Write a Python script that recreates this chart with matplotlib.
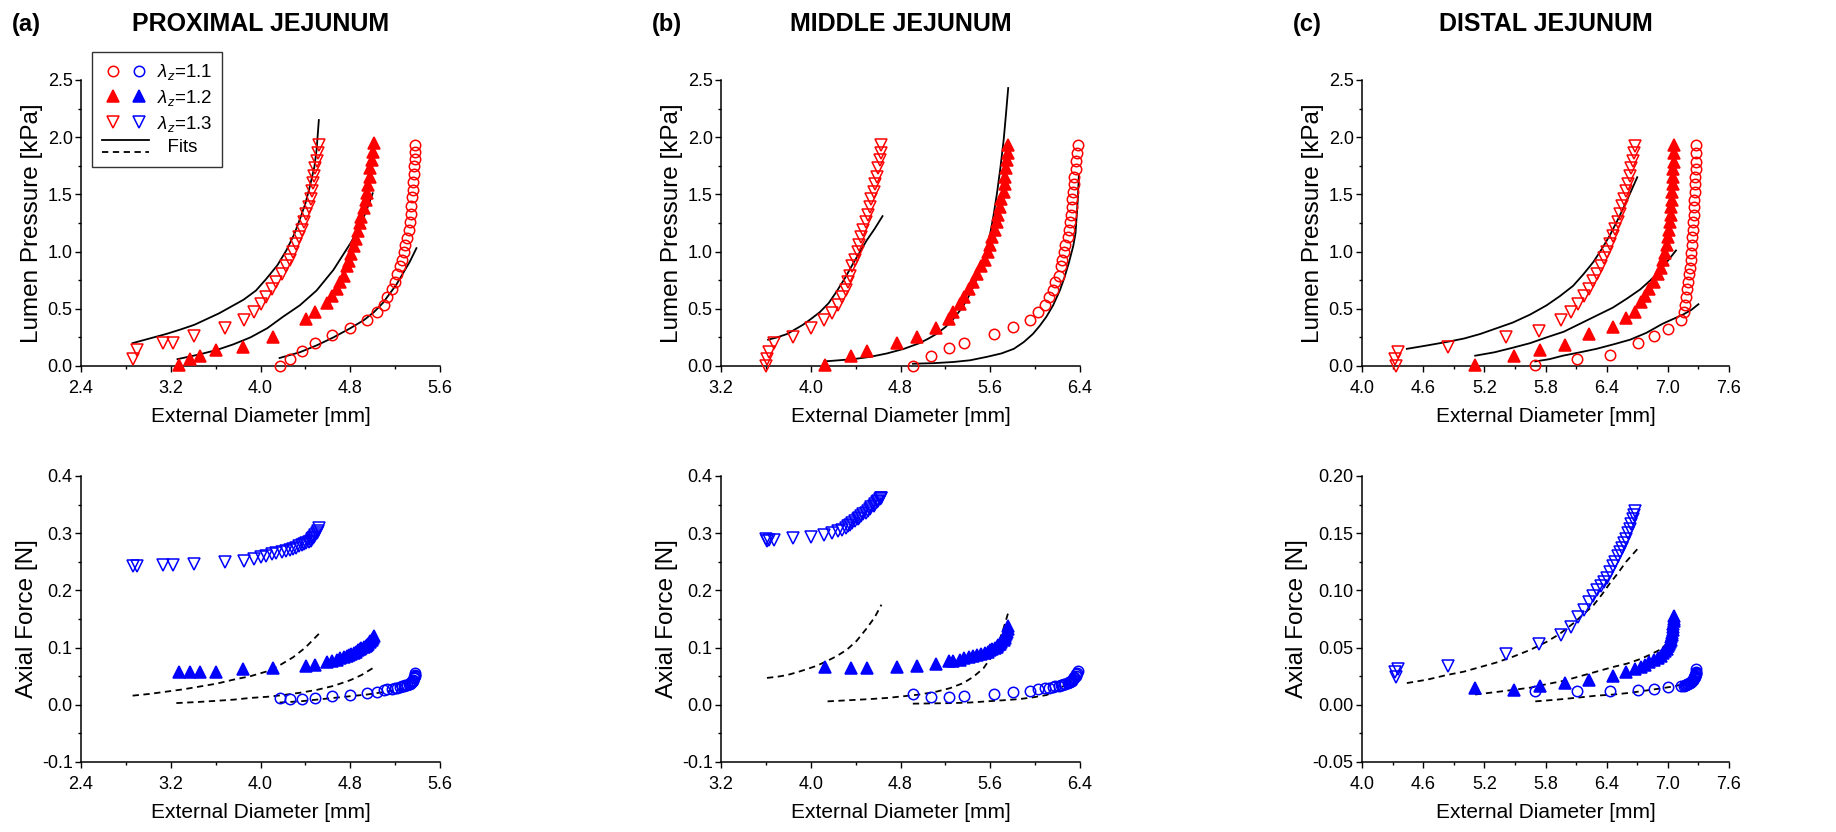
import matplotlib
matplotlib.use('Agg')
import matplotlib.pyplot as plt
from matplotlib.lines import Line2D
from matplotlib.legend_handler import HandlerBase, HandlerTuple
from matplotlib.ticker import FixedLocator, FormatStrFormatter

plt.rcParams['font.family'] = ['Liberation Sans', 'DejaVu Sans']
plt.rcParams['mathtext.fontset'] = 'custom'
plt.rcParams['mathtext.rm'] = 'Liberation Sans'
plt.rcParams['mathtext.it'] = 'Liberation Sans:italic'

# ---------------- proximal jejunum ----------------
d_a1 = [4.17, 4.26, 4.37, 4.49, 4.64, 4.80, 4.95, 5.04, 5.10, 5.13, 5.17, 5.20, 5.22, 5.24, 5.26,
        5.28, 5.29, 5.31, 5.32, 5.33, 5.34, 5.345, 5.35, 5.355, 5.36, 5.365, 5.37, 5.375, 5.38, 5.38]
p_a1 = [0.00, 0.06, 0.13, 0.20, 0.27, 0.33, 0.40, 0.47, 0.53, 0.60, 0.67, 0.73, 0.80, 0.87, 0.93,
        1.00, 1.06, 1.12, 1.19, 1.26, 1.33, 1.40, 1.48, 1.54, 1.61, 1.68, 1.75, 1.81, 1.87, 1.93]
f_a1 = [0.012, 0.010, 0.010, 0.012, 0.015, 0.017, 0.020, 0.023, 0.026, 0.027, 0.028, 0.029, 0.030, 0.031, 0.032,
        0.033, 0.034, 0.035, 0.036, 0.037, 0.038, 0.039, 0.040, 0.042, 0.044, 0.046, 0.048, 0.050, 0.052, 0.055]

d_a2 = [3.27, 3.37, 3.46, 3.60, 3.84, 4.11, 4.41, 4.49, 4.59, 4.64, 4.68, 4.71, 4.74, 4.77, 4.79,
        4.81, 4.83, 4.85, 4.87, 4.89, 4.90, 4.92, 4.94, 4.95, 4.96, 4.98, 4.98, 4.99, 5.00, 5.01]
p_a2 = [0.01, 0.06, 0.09, 0.14, 0.17, 0.25, 0.41, 0.47, 0.55, 0.61, 0.67, 0.73, 0.79, 0.87, 0.92,
        0.98, 1.05, 1.11, 1.18, 1.25, 1.30, 1.38, 1.45, 1.51, 1.58, 1.65, 1.73, 1.80, 1.87, 1.95]
f_a2 = [0.057, 0.057, 0.057, 0.057, 0.062, 0.064, 0.068, 0.070, 0.074, 0.077, 0.079, 0.081, 0.083, 0.085, 0.087,
        0.089, 0.091, 0.093, 0.095, 0.097, 0.099, 0.101, 0.103, 0.105, 0.107, 0.109, 0.111, 0.113, 0.116, 0.120]

d_a3 = [2.86, 2.90, 3.13, 3.22, 3.41, 3.68, 3.85, 3.94, 4.00, 4.05, 4.10, 4.14, 4.19, 4.23, 4.26,
        4.29, 4.32, 4.34, 4.37, 4.39, 4.41, 4.43, 4.45, 4.46, 4.47, 4.48, 4.49, 4.50, 4.51, 4.52]
p_a3 = [0.06, 0.14, 0.20, 0.20, 0.26, 0.33, 0.40, 0.47, 0.54, 0.60, 0.67, 0.73, 0.80, 0.87, 0.93,
        1.00, 1.07, 1.13, 1.19, 1.26, 1.33, 1.39, 1.46, 1.53, 1.60, 1.66, 1.73, 1.79, 1.86, 1.93]
f_a3 = [0.243, 0.242, 0.244, 0.245, 0.247, 0.249, 0.252, 0.255, 0.258, 0.261, 0.263, 0.265, 0.267, 0.269, 0.271,
        0.273, 0.275, 0.277, 0.279, 0.281, 0.283, 0.285, 0.287, 0.289, 0.291, 0.294, 0.297, 0.300, 0.304, 0.309]

fd_a1 = [4.17, 4.35, 4.50, 4.65, 4.80, 4.92, 5.01, 5.09, 5.15, 5.21, 5.27, 5.33, 5.39]
fp_a1 = [0.07, 0.12, 0.18, 0.25, 0.33, 0.40, 0.47, 0.55, 0.63, 0.71, 0.81, 0.91, 1.03]
fd_a2 = [3.26, 3.45, 3.61, 3.76, 3.91, 4.06, 4.20, 4.35, 4.50, 4.65, 4.80, 4.87, 4.92, 4.96, 5.00]
fp_a2 = [0.06, 0.10, 0.14, 0.19, 0.25, 0.33, 0.43, 0.53, 0.66, 0.84, 1.07, 1.19, 1.30, 1.40, 1.51]
fd_a3 = [2.86, 3.01, 3.16, 3.29, 3.41, 3.63, 3.85, 3.96, 4.05, 4.15, 4.23, 4.30, 4.35, 4.40, 4.44, 4.48, 4.50, 4.52]
fp_a3 = [0.20, 0.24, 0.28, 0.32, 0.36, 0.46, 0.58, 0.66, 0.76, 0.88, 1.01, 1.15, 1.28, 1.42, 1.57, 1.74, 1.89, 2.15]

ffd_a1 = [4.17, 4.35, 4.50, 4.65, 4.80, 4.95, 5.09, 5.24, 5.39]
ff_a1 = [0.004, 0.006, 0.009, 0.012, 0.015, 0.018, 0.022, 0.027, 0.032]
ffd_a2 = [3.25, 3.45, 3.61, 3.76, 3.91, 4.06, 4.20, 4.35, 4.50, 4.65, 4.80, 4.90, 5.00]
ff_a2 = [0.003, 0.005, 0.007, 0.009, 0.012, 0.014, 0.017, 0.021, 0.026, 0.033, 0.043, 0.052, 0.064]
ffd_a3 = [2.86, 3.01, 3.16, 3.31, 3.46, 3.61, 3.76, 3.91, 4.05, 4.17, 4.29, 4.40, 4.52]
ff_a3 = [0.016, 0.019, 0.023, 0.027, 0.032, 0.037, 0.044, 0.050, 0.058, 0.069, 0.083, 0.100, 0.124]

# ---------------- middle jejunum ----------------
d_b1 = [4.91, 5.07, 5.23, 5.37, 5.63, 5.80, 5.95, 6.03, 6.09, 6.12, 6.16, 6.18, 6.21, 6.23, 6.24,
        6.26, 6.27, 6.29, 6.30, 6.31, 6.32, 6.33, 6.33, 6.34, 6.35, 6.35, 6.36, 6.36, 6.37, 6.38]
p_b1 = [0.00, 0.09, 0.16, 0.20, 0.28, 0.34, 0.40, 0.47, 0.53, 0.60, 0.66, 0.73, 0.79, 0.87, 0.93,
        1.00, 1.06, 1.13, 1.19, 1.26, 1.32, 1.39, 1.46, 1.52, 1.59, 1.65, 1.72, 1.79, 1.86, 1.93]
f_b1 = [0.019, 0.013, 0.013, 0.016, 0.019, 0.022, 0.025, 0.027, 0.029, 0.030, 0.031, 0.032, 0.033, 0.034, 0.035,
        0.036, 0.037, 0.038, 0.039, 0.040, 0.041, 0.042, 0.043, 0.045, 0.047, 0.049, 0.051, 0.053, 0.056, 0.059]

d_b2 = [4.13, 4.36, 4.50, 4.77, 4.95, 5.12, 5.23, 5.27, 5.33, 5.37, 5.41, 5.45, 5.48, 5.52, 5.55,
        5.58, 5.60, 5.62, 5.64, 5.66, 5.67, 5.69, 5.70, 5.72, 5.73, 5.73, 5.74, 5.75, 5.76, 5.76]
p_b2 = [0.01, 0.09, 0.13, 0.20, 0.25, 0.33, 0.41, 0.47, 0.54, 0.60, 0.67, 0.73, 0.80, 0.87, 0.93,
        1.00, 1.06, 1.13, 1.19, 1.26, 1.32, 1.39, 1.46, 1.52, 1.59, 1.65, 1.73, 1.80, 1.86, 1.93]
f_b2 = [0.066, 0.064, 0.064, 0.066, 0.068, 0.072, 0.076, 0.077, 0.079, 0.081, 0.083, 0.085, 0.087, 0.089, 0.091,
        0.093, 0.095, 0.097, 0.099, 0.101, 0.104, 0.107, 0.110, 0.113, 0.116, 0.120, 0.124, 0.128, 0.133, 0.138]

d_b3 = [3.60, 3.61, 3.63, 3.67, 3.84, 4.00, 4.12, 4.19, 4.24, 4.28, 4.31, 4.33, 4.35, 4.37, 4.39,
        4.42, 4.43, 4.45, 4.47, 4.49, 4.51, 4.53, 4.54, 4.56, 4.57, 4.59, 4.60, 4.62, 4.63, 4.63]
p_b3 = [0.00, 0.06, 0.12, 0.20, 0.25, 0.33, 0.40, 0.46, 0.53, 0.60, 0.66, 0.73, 0.79, 0.87, 0.93,
        1.00, 1.06, 1.13, 1.19, 1.26, 1.32, 1.39, 1.46, 1.52, 1.59, 1.65, 1.73, 1.80, 1.86, 1.93]
f_b3 = [0.289, 0.287, 0.288, 0.288, 0.292, 0.294, 0.297, 0.300, 0.303, 0.306, 0.309, 0.312, 0.315, 0.318, 0.321,
        0.324, 0.327, 0.330, 0.333, 0.336, 0.339, 0.342, 0.345, 0.348, 0.351, 0.354, 0.357, 0.359, 0.361, 0.362]

fd_b1 = [4.91, 5.10, 5.27, 5.42, 5.57, 5.70, 5.81, 5.90, 5.98, 6.04, 6.10, 6.16, 6.22, 6.26, 6.30, 6.34, 6.36, 6.38, 6.39]
fp_b1 = [0.02, 0.025, 0.035, 0.05, 0.08, 0.11, 0.15, 0.21, 0.28, 0.35, 0.43, 0.53, 0.66, 0.77, 0.90, 1.05, 1.16, 1.45, 1.67]
fd_b2 = [4.12, 4.38, 4.53, 4.68, 4.83, 4.97, 5.05, 5.12, 5.20, 5.27, 5.35, 5.42, 5.47, 5.52, 5.56, 5.60, 5.63, 5.66, 5.69, 5.72, 5.74, 5.76]
fp_b2 = [0.04, 0.06, 0.08, 0.11, 0.15, 0.20, 0.24, 0.28, 0.34, 0.41, 0.51, 0.63, 0.74, 0.87, 1.00, 1.16, 1.32, 1.51, 1.73, 1.98, 2.20, 2.43]
fd_b3 = [3.62, 3.70, 3.79, 3.86, 3.93, 4.00, 4.08, 4.16, 4.23, 4.30, 4.38, 4.44, 4.50, 4.57, 4.64]
fp_b3 = [0.23, 0.25, 0.28, 0.32, 0.36, 0.41, 0.47, 0.55, 0.65, 0.76, 0.90, 1.00, 1.10, 1.20, 1.31]

ffd_b1 = [4.91, 5.10, 5.27, 5.42, 5.57, 5.72, 5.86, 5.98, 6.10, 6.19, 6.27, 6.33, 6.38]
ff_b1 = [0.002, 0.0025, 0.003, 0.004, 0.006, 0.008, 0.010, 0.013, 0.017, 0.024, 0.035, 0.045, 0.058]
ffd_b2 = [4.15, 4.34, 4.53, 4.68, 4.83, 4.97, 5.12, 5.24, 5.36, 5.45, 5.54, 5.60, 5.66, 5.71, 5.76]
ff_b2 = [0.006, 0.008, 0.010, 0.012, 0.015, 0.018, 0.023, 0.029, 0.038, 0.049, 0.064, 0.081, 0.102, 0.128, 0.161]
ffd_b3 = [3.61, 3.70, 3.79, 3.88, 3.96, 4.05, 4.14, 4.23, 4.32, 4.41, 4.50, 4.57, 4.63]
ff_b3 = [0.047, 0.049, 0.052, 0.057, 0.062, 0.068, 0.076, 0.085, 0.096, 0.112, 0.134, 0.153, 0.175]

# ---------------- distal jejunum ----------------
d_c1 = [5.70, 6.11, 6.43, 6.71, 6.86, 7.00, 7.13, 7.16, 7.17, 7.18, 7.19, 7.20, 7.21, 7.22, 7.23,
        7.23, 7.24, 7.24, 7.25, 7.25, 7.26, 7.26, 7.26, 7.27, 7.27, 7.27, 7.28, 7.28, 7.28, 7.28]
p_c1 = [0.01, 0.06, 0.10, 0.20, 0.26, 0.32, 0.40, 0.47, 0.53, 0.60, 0.67, 0.73, 0.80, 0.86, 0.93,
        0.99, 1.06, 1.13, 1.19, 1.26, 1.32, 1.39, 1.45, 1.52, 1.59, 1.65, 1.72, 1.78, 1.86, 1.93]
f_c1 = [0.012, 0.012, 0.0125, 0.013, 0.014, 0.0155, 0.016, 0.016, 0.017, 0.017, 0.018, 0.018, 0.019, 0.019, 0.020,
        0.020, 0.021, 0.021, 0.022, 0.022, 0.023, 0.023, 0.024, 0.024, 0.025, 0.026, 0.027, 0.028, 0.029, 0.031]

d_c2 = [5.11, 5.49, 5.75, 5.99, 6.23, 6.46, 6.59, 6.68, 6.74, 6.78, 6.82, 6.86, 6.90, 6.93, 6.95,
        6.97, 6.99, 7.00, 7.01, 7.02, 7.03, 7.03, 7.04, 7.04, 7.05, 7.05, 7.05, 7.06, 7.06, 7.06]
p_c2 = [0.01, 0.09, 0.14, 0.18, 0.28, 0.34, 0.42, 0.47, 0.56, 0.61, 0.67, 0.73, 0.80, 0.86, 0.93,
        0.99, 1.06, 1.13, 1.19, 1.26, 1.32, 1.39, 1.45, 1.52, 1.59, 1.65, 1.72, 1.78, 1.86, 1.93]
f_c2 = [0.015, 0.013, 0.016, 0.019, 0.022, 0.025, 0.029, 0.031, 0.033, 0.035, 0.037, 0.039, 0.041, 0.043, 0.045,
        0.047, 0.049, 0.051, 0.053, 0.055, 0.057, 0.059, 0.061, 0.063, 0.065, 0.068, 0.071, 0.073, 0.075, 0.078]

d_c3 = [4.33, 4.32, 4.35, 4.84, 5.41, 5.74, 5.95, 6.05, 6.12, 6.18, 6.23, 6.27, 6.31, 6.34, 6.37,
        6.40, 6.43, 6.46, 6.48, 6.51, 6.53, 6.55, 6.57, 6.59, 6.61, 6.63, 6.64, 6.66, 6.67, 6.68]
p_c3 = [0.00, 0.06, 0.12, 0.17, 0.25, 0.31, 0.40, 0.47, 0.54, 0.61, 0.67, 0.74, 0.80, 0.87, 0.94,
        1.00, 1.07, 1.14, 1.20, 1.26, 1.33, 1.40, 1.46, 1.53, 1.59, 1.66, 1.73, 1.79, 1.86, 1.92]
f_c3 = [0.024, 0.029, 0.031, 0.034, 0.044, 0.053, 0.061, 0.068, 0.077, 0.083, 0.090, 0.095, 0.100, 0.104, 0.107,
        0.111, 0.116, 0.121, 0.125, 0.130, 0.134, 0.137, 0.141, 0.145, 0.150, 0.154, 0.158, 0.162, 0.166, 0.169]

fd_c1 = [5.70, 5.84, 5.97, 6.14, 6.30, 6.47, 6.63, 6.79, 6.95, 7.05, 7.15, 7.23, 7.30]
fp_c1 = [0.04, 0.06, 0.09, 0.12, 0.15, 0.19, 0.23, 0.29, 0.37, 0.41, 0.45, 0.49, 0.54]
fd_c2 = [5.11, 5.30, 5.48, 5.65, 5.81, 5.98, 6.14, 6.30, 6.46, 6.60, 6.73, 6.83, 6.92, 7.00, 7.08]
fp_c2 = [0.09, 0.12, 0.16, 0.20, 0.25, 0.30, 0.37, 0.44, 0.51, 0.59, 0.67, 0.75, 0.83, 0.92, 1.01]
fd_c3 = [4.44, 4.64, 4.83, 5.00, 5.16, 5.32, 5.48, 5.65, 5.81, 5.94, 6.07, 6.17, 6.27, 6.35, 6.43, 6.51, 6.59, 6.65, 6.70]
fp_c3 = [0.15, 0.18, 0.21, 0.24, 0.28, 0.33, 0.38, 0.45, 0.53, 0.61, 0.70, 0.80, 0.91, 1.02, 1.14, 1.28, 1.43, 1.55, 1.65]

ffd_c1 = [5.70, 5.84, 5.97, 6.14, 6.30, 6.47, 6.63, 6.79, 6.95, 7.05, 7.15, 7.22, 7.28]
ff_c1 = [0.003, 0.004, 0.005, 0.0065, 0.008, 0.009, 0.0105, 0.0125, 0.0146, 0.016, 0.018, 0.021, 0.024]
ffd_c2 = [5.11, 5.30, 5.48, 5.65, 5.81, 5.98, 6.14, 6.30, 6.46, 6.60, 6.73, 6.83, 6.92, 7.00, 7.08]
ff_c2 = [0.009, 0.011, 0.013, 0.015, 0.018, 0.021, 0.025, 0.029, 0.033, 0.036, 0.040, 0.044, 0.048, 0.054, 0.061]
ffd_c3 = [4.44, 4.64, 4.83, 5.00, 5.16, 5.32, 5.48, 5.65, 5.81, 5.94, 6.07, 6.17, 6.27, 6.35, 6.43, 6.51, 6.59, 6.65, 6.70]
ff_c3 = [0.019, 0.022, 0.026, 0.029, 0.033, 0.037, 0.042, 0.048, 0.055, 0.062, 0.071, 0.079, 0.087, 0.096, 0.106, 0.115, 0.125, 0.131, 0.136]

titles = ['PROXIMAL JEJUNUM', 'MIDDLE JEJUNUM', 'DISTAL JEJUNUM']
letters = ['(a)', '(b)', '(c)']
stretch_labels = [r'$\lambda_z$=1.1', r'$\lambda_z$=1.2', r'$\lambda_z$=1.3']

panels = [
    dict(d=[d_a1, d_a2, d_a3], p=[p_a1, p_a2, p_a3], f=[f_a1, f_a2, f_a3],
         fd=[fd_a1, fd_a2, fd_a3], fp=[fp_a1, fp_a2, fp_a3],
         ffd=[ffd_a1, ffd_a2, ffd_a3], ff=[ff_a1, ff_a2, ff_a3],
         xlim=(2.4, 5.6), xmaj=0.8, flim=(-0.1, 0.4), fmaj=0.1, ffmt='%.1f'),
    dict(d=[d_b1, d_b2, d_b3], p=[p_b1, p_b2, p_b3], f=[f_b1, f_b2, f_b3],
         fd=[fd_b1, fd_b2, fd_b3], fp=[fp_b1, fp_b2, fp_b3],
         ffd=[ffd_b1, ffd_b2, ffd_b3], ff=[ff_b1, ff_b2, ff_b3],
         xlim=(3.2, 6.4), xmaj=0.8, flim=(-0.1, 0.4), fmaj=0.1, ffmt='%.1f'),
    dict(d=[d_c1, d_c2, d_c3], p=[p_c1, p_c2, p_c3], f=[f_c1, f_c2, f_c3],
         fd=[fd_c1, fd_c2, fd_c3], fp=[fp_c1, fp_c2, fp_c3],
         ffd=[ffd_c1, ffd_c2, ffd_c3], ff=[ff_c1, ff_c2, ff_c3],
         xlim=(4.0, 7.6), xmaj=0.6, flim=(-0.05, 0.20), fmaj=0.05, ffmt='%.2f'),
]

W, H = 1836, 832
# axes boxes in pixels: left, right
ax_x = [(81, 440), (721, 1080), (1362, 1729)]
top_y = (80, 366)
bot_y = (476, 762)
letter_x = [26, 667, 1307]

markers = [dict(marker='o', mfc='none', ms=7.5),
           dict(marker='^', ms=8.5),
           dict(marker='v', mfc='none', ms=8.5)]


def ticks(lo, hi, step):
    n = int(round((hi - lo) / step))
    return [lo + j * step for j in range(n + 1)]


def style_axis(ax, xlim, xmaj, ylim, ymaj, yfmt, ylabel):
    ax.set_xlim(*xlim)
    ax.set_ylim(*ylim)
    ax.spines['top'].set_visible(False)
    ax.spines['right'].set_visible(False)
    for s in ('left', 'bottom'):
        ax.spines[s].set_linewidth(1.1)
    ax.xaxis.set_major_locator(FixedLocator(ticks(xlim[0], xlim[1], xmaj)))
    ax.xaxis.set_minor_locator(FixedLocator(ticks(xlim[0], xlim[1], xmaj / 2)))
    ax.yaxis.set_major_locator(FixedLocator(ticks(ylim[0], ylim[1], ymaj)))
    ax.yaxis.set_minor_locator(FixedLocator(ticks(ylim[0], ylim[1], ymaj / 2)))
    ax.xaxis.set_major_formatter(FormatStrFormatter('%.1f'))
    ax.yaxis.set_major_formatter(FormatStrFormatter(yfmt))
    ax.tick_params(which='major', direction='out', length=4, width=1.0, labelsize=13)
    ax.tick_params(axis='x', which='major', pad=6)
    ax.tick_params(axis='y', which='major', pad=2)
    ax.tick_params(which='minor', direction='out', length=2.5, width=1.0)
    ax.set_xlabel('External Diameter [mm]', fontsize=15, labelpad=7)
    ax.set_ylabel(ylabel, fontsize=17.5, labelpad=3)


fig = plt.figure(figsize=(W / 100, H / 100), dpi=100)

for i, pan in enumerate(panels):
    l, r = ax_x[i]
    rect_t = [l / W, 1 - top_y[1] / H, (r - l) / W, (top_y[1] - top_y[0]) / H]
    rect_b = [l / W, 1 - bot_y[1] / H, (r - l) / W, (bot_y[1] - bot_y[0]) / H]
    ax_t = fig.add_axes(rect_t)
    ax_b = fig.add_axes(rect_b)

    for k in range(3):
        ax_t.plot(pan['fd'][k], pan['fp'][k], color='black', lw=1.3, zorder=2)
        ax_t.plot(pan['d'][k], pan['p'][k], ls='none', color='red', mec='red',
                  mew=1.1, clip_on=False, zorder=3, **markers[k])
        ax_b.plot(pan['ffd'][k], pan['ff'][k], color='black', lw=1.3, dashes=(3.5, 2.5), zorder=2)
        ax_b.plot(pan['d'][k], pan['f'][k], ls='none', color='blue', mec='blue',
                  mew=1.1, clip_on=False, zorder=3, **markers[k])

    style_axis(ax_t, pan['xlim'], pan['xmaj'], (0, 2.5), 0.5, '%.1f', 'Lumen Pressure [kPa]')
    style_axis(ax_b, pan['xlim'], pan['xmaj'], pan['flim'], pan['fmaj'], pan['ffmt'], 'Axial Force [N]')

    fig.text((l + r) / 2 / W, 1 - 24 / H, titles[i], ha='center', va='center',
             fontsize=18, fontweight='bold')
    fig.text(letter_x[i] / W, 1 - 24 / H, letters[i], ha='center', va='center',
             fontsize=17, fontweight='bold')

    if i == 0:
        legend_ax = ax_t


class FitsHandler(HandlerBase):
    def create_artists(self, legend, orig_handle, xdescent, ydescent, width, height, fontsize, trans):
        yc = height / 2 - ydescent
        solid = Line2D([-xdescent, width - xdescent], [yc + 0.33 * fontsize] * 2,
                       color='black', lw=1.3, transform=trans)
        dashed = Line2D([-xdescent, width - xdescent], [yc - 0.33 * fontsize] * 2,
                        color='black', lw=1.3, dashes=(3.5, 2.5), transform=trans)
        return [solid, dashed]


def mk(color, k):
    return Line2D([], [], ls='none', color=color, mec=color, mew=1.1, **markers[k])


handles = [(mk('red', k), mk('blue', k)) for k in range(3)] + ['fits']
labels = stretch_labels + ['  Fits']
leg = legend_ax.legend(handles, labels, loc='upper left',
                       bbox_to_anchor=(92 / W, 1 - 52 / H), bbox_transform=fig.transFigure,
                       borderaxespad=0, frameon=True, fancybox=False, edgecolor='black',
                       fontsize=13.5, numpoints=1, handlelength=2.5, handletextpad=0.4,
                       labelspacing=0.3, borderpad=0.55,
                       handler_map={tuple: HandlerTuple(ndivide=None, pad=0.3),
                                    str: FitsHandler()})
leg.get_frame().set_linewidth(1.0)

fig.savefig('out.png', dpi=100)
